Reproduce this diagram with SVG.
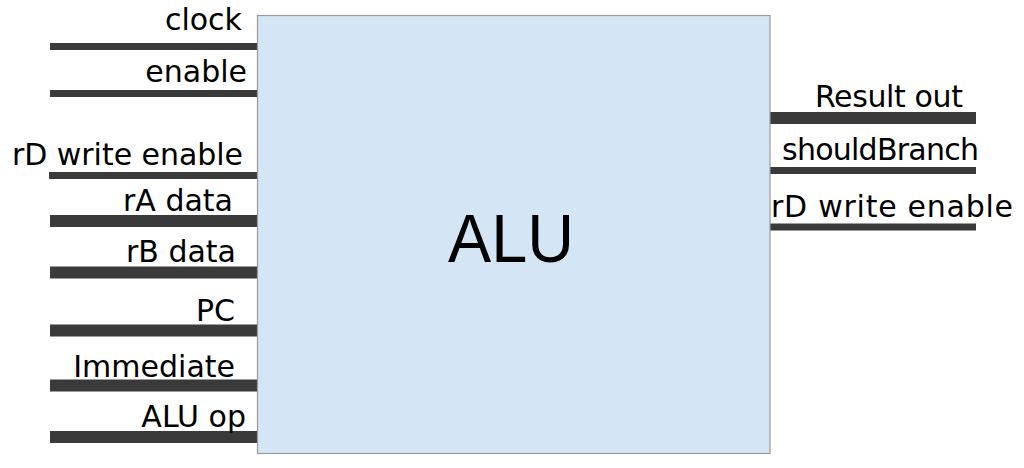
<svg xmlns="http://www.w3.org/2000/svg" width="1024" height="468" viewBox="0 0 1024 468">
<style>
.bg{fill:#ffffff}
.box{fill:#d4e6f5;stroke:#9a9a9a;stroke-width:1.2}
.w{stroke:#3a3a3a;stroke-linecap:butt;fill:none}
.thin{stroke-width:7}
.thick{stroke-width:12}
.lbl{font-family:"DejaVu Sans","Liberation Sans",sans-serif;font-size:30px;fill:#000}
.end{text-anchor:end}
.title{font-family:"Liberation Sans","DejaVu Sans",sans-serif;font-size:68px;fill:#000;text-anchor:middle}
</style>
<rect class="bg" x="0" y="0" width="1024" height="468"/>
<g id="connectors">
<line class="w thin" x1="50" y1="46.5" x2="258" y2="46.5"/>
<line class="w thin" x1="50" y1="93.5" x2="258" y2="93.5"/>
<line class="w thin" x1="49" y1="175.5" x2="258" y2="175.5"/>
<line class="w thick" x1="50" y1="221" x2="258" y2="221"/>
<line class="w thick" x1="50" y1="272.5" x2="258" y2="272.5"/>
<line class="w thick" x1="50" y1="330.5" x2="258" y2="330.5"/>
<line class="w thick" x1="50" y1="385.5" x2="258" y2="385.5"/>
<line class="w thick" x1="50" y1="437" x2="258" y2="437"/>
<line class="w thick" x1="770" y1="118" x2="976" y2="118"/>
<line class="w thin" x1="770" y1="170.5" x2="976" y2="170.5"/>
<line class="w thin" x1="770" y1="227" x2="976" y2="227"/>
</g>
<g id="alu">
<rect class="box" x="257.5" y="15.5" width="512.5" height="438"/>
<text class="title" x="511" y="262" textLength="126" lengthAdjust="spacingAndGlyphs">ALU</text>
</g>
<g id="labels">
<text class="lbl end" x="242" y="30">clock</text>
<text class="lbl end" x="247" y="82">enable</text>
<text class="lbl end" x="243" y="165" textLength="231">rD write enable</text>
<text class="lbl end" x="233" y="211">rA data</text>
<text class="lbl end" x="236" y="262">rB data</text>
<text class="lbl end" x="235" y="321">PC</text>
<text class="lbl end" x="235" y="377">Immediate</text>
<text class="lbl end" x="246" y="427">ALU op</text>
<text class="lbl" x="815" y="107" textLength="148">Result out</text>
<text class="lbl" x="782" y="160" textLength="197">shouldBranch</text>
<text class="lbl" x="771" y="217" textLength="242">rD write enable</text>
</g>
</svg>
